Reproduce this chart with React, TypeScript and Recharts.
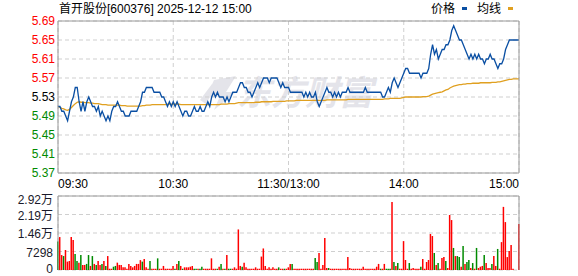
import {
  Bar,
  BarChart,
  CartesianGrid,
  Cell,
  Line,
  LineChart,
  ReferenceLine,
  XAxis,
  YAxis,
} from "recharts";

const FONT = "'Liberation Sans', Arial, 'Noto Sans CJK SC', sans-serif";
const RED = "#ff0000";
const GREEN = "#008a00";
const PRICE_COLOR = "#0a4fa3";
const AVG_COLOR = "#e0a020";
const FRAME = "#9a9a9a";
const GRID = "#cfcfcf";

const PRE_CLOSE = 5.53;

// minute index: 0..120 = 09:30..11:30, 121..240 = 13:01..15:00
const timeTicks = [0, 60, 120, 180, 240];
const timeLabels = ["09:30", "10:30", "11:30/13:00", "14:00", "15:00"];

const priceTicks = [5.37, 5.41, 5.45, 5.49, 5.53, 5.57, 5.61, 5.65, 5.69];
const pctLabels = ["2.90%", "2.18%", "1.45%", "0.73%", "0.00%", "0.73%", "1.45%", "2.18%", "2.90%"];

const volTicks = [0, 7298, 14596, 21894, 29192];
const volLabels = ["0", "7298", "1.46万", "2.19万", "2.92万"];

const priceAM = [
  5.51, 5.51, 5.5, 5.5, 5.49, 5.48, 5.5, 5.52, 5.53, 5.55,
  5.55, 5.52, 5.5, 5.52, 5.5, 5.52, 5.53, 5.52, 5.51, 5.51,
  5.5, 5.51, 5.49, 5.5, 5.49, 5.48, 5.49, 5.48, 5.5, 5.51,
  5.51, 5.52, 5.51, 5.5, 5.5, 5.49, 5.49, 5.49, 5.5, 5.5,
  5.5, 5.5, 5.51, 5.52, 5.54, 5.54, 5.55, 5.55, 5.55, 5.55,
  5.54, 5.54, 5.54, 5.54, 5.53, 5.53, 5.52, 5.51, 5.52, 5.51,
  5.52, 5.51, 5.52, 5.51, 5.5, 5.49, 5.5, 5.5, 5.49, 5.49,
  5.5, 5.51, 5.5, 5.5, 5.51, 5.5, 5.5, 5.51, 5.52, 5.51,
  5.53, 5.54, 5.53, 5.54, 5.53, 5.53, 5.53, 5.52, 5.53, 5.52,
  5.53, 5.54, 5.54, 5.54, 5.55, 5.56, 5.56, 5.55, 5.55, 5.54,
  5.54, 5.53, 5.54, 5.55, 5.56, 5.55, 5.56, 5.57, 5.57, 5.57,
  5.56, 5.57, 5.57, 5.57, 5.57, 5.56, 5.55, 5.56, 5.55, 5.55,
  5.55,
];

const pricePM = [
  5.54, 5.54, 5.54, 5.54, 5.54, 5.54, 5.54, 5.53, 5.54, 5.53,
  5.54, 5.53, 5.53, 5.54, 5.52, 5.51, 5.52, 5.53, 5.54, 5.55,
  5.54, 5.54, 5.53, 5.54, 5.53, 5.54, 5.53, 5.54, 5.54, 5.54,
  5.55, 5.54, 5.54, 5.54, 5.54, 5.54, 5.54, 5.54, 5.54, 5.55,
  5.54, 5.54, 5.54, 5.54, 5.54, 5.54, 5.54, 5.54, 5.53, 5.53,
  5.54, 5.55, 5.54, 5.56, 5.57, 5.56, 5.55, 5.56, 5.57, 5.58,
  5.59, 5.59, 5.58, 5.58, 5.58, 5.58, 5.58, 5.58, 5.57, 5.58,
  5.58, 5.58, 5.59, 5.62, 5.64, 5.62, 5.63, 5.61, 5.62, 5.63,
  5.63, 5.64, 5.64, 5.65, 5.67, 5.68, 5.67, 5.66, 5.65, 5.65,
  5.64, 5.63, 5.62, 5.61, 5.62, 5.61, 5.62, 5.61, 5.62, 5.61,
  5.61, 5.6, 5.61, 5.61, 5.62, 5.61, 5.61, 5.6, 5.59, 5.6,
  5.6, 5.61, 5.63, 5.64, 5.65, 5.65, 5.65, 5.65, 5.65, 5.65,
];

const avgAM = [
  5.51, 5.508, 5.506, 5.505, 5.503, 5.502, 5.504, 5.508, 5.512, 5.516,
  5.519, 5.52, 5.519, 5.519, 5.518, 5.518, 5.518, 5.517, 5.517, 5.516,
  5.516, 5.516, 5.515, 5.514, 5.514, 5.514, 5.513, 5.513, 5.513, 5.513,
  5.513, 5.513, 5.513, 5.512, 5.512, 5.512, 5.511, 5.511, 5.511, 5.511,
  5.511, 5.511, 5.511, 5.511, 5.512, 5.512, 5.513, 5.513, 5.513, 5.514,
  5.514, 5.514, 5.514, 5.514, 5.514, 5.514, 5.514, 5.515, 5.515, 5.515,
  5.515, 5.515, 5.515, 5.515, 5.514, 5.514, 5.514, 5.514, 5.514, 5.514,
  5.514, 5.514, 5.514, 5.514, 5.514, 5.514, 5.514, 5.514, 5.514, 5.514,
  5.514, 5.514, 5.514, 5.514, 5.514, 5.515, 5.515, 5.515, 5.515, 5.516,
  5.516, 5.516, 5.516, 5.517, 5.518, 5.518, 5.518, 5.518, 5.518, 5.518,
  5.518, 5.518, 5.518, 5.519, 5.519, 5.519, 5.52, 5.52, 5.52, 5.52,
  5.52, 5.52, 5.521, 5.521, 5.521, 5.521, 5.521, 5.521, 5.521, 5.522,
  5.522,
];

const avgPM = [
  5.522, 5.522, 5.522, 5.523, 5.523, 5.523, 5.523, 5.523, 5.523, 5.523,
  5.523, 5.523, 5.523, 5.523, 5.523, 5.523, 5.523, 5.523, 5.523, 5.524,
  5.524, 5.524, 5.524, 5.524, 5.524, 5.524, 5.524, 5.524, 5.524, 5.524,
  5.525, 5.525, 5.525, 5.525, 5.525, 5.525, 5.525, 5.525, 5.525, 5.525,
  5.525, 5.525, 5.525, 5.525, 5.525, 5.525, 5.525, 5.525, 5.525, 5.526,
  5.526, 5.526, 5.527, 5.527, 5.527, 5.527, 5.527, 5.527, 5.528, 5.529,
  5.53, 5.53, 5.53, 5.53, 5.53, 5.53, 5.53, 5.53, 5.53, 5.531,
  5.531, 5.531, 5.532, 5.534, 5.536, 5.537, 5.538, 5.539, 5.54, 5.541,
  5.543, 5.545, 5.546, 5.549, 5.551, 5.553, 5.554, 5.555, 5.556, 5.556,
  5.557, 5.557, 5.558, 5.558, 5.558, 5.559, 5.559, 5.559, 5.559, 5.56,
  5.56, 5.56, 5.56, 5.56, 5.56, 5.561, 5.561, 5.561, 5.562, 5.562,
  5.563, 5.564, 5.565, 5.566, 5.567, 5.567, 5.568, 5.568, 5.568, 5.568,
];

const volAM = [
  11200, 13000, 5900, 5500, 7900, 3300, 3550, 13000, 11800, 6300,
  3550, 2900, 5900, 2000, 2000, 2400, 5900, 1600, 5500, 2400,
  2000, 3550, 2000, 2400, 3550, 1600, 5500, 500, 500, 1300,
  1600, 2900, 2000, 2000, 1050, 1050, 500, 2400, 1600, 1050,
  1600, 2400, 2400, 3900, 3300, 4300, 1050, 500, 3550, 500,
  500, 500, 4600, 500, 500, 1600, 500, 500, 500, 500,
  1600, 500, 2400, 3550, 1600, 500, 1050, 1050, 1050, 1300,
  1600, 500, 500, 500, 500, 1300, 500, 500, 500, 500,
  4600, 500, 500, 500, 1300, 2400, 500, 500, 5900, 500,
  500, 500, 1050, 500, 16000, 1600, 1300, 2900, 1050, 500,
  500, 500, 500, 1050, 500, 500, 5300, 8500, 1600, 500,
  1050, 500, 1050, 500, 500, 1050, 500, 500, 500, 500,
  1050,
];

const volPM = [
  2400, 2400, 500, 500, 500, 500, 500, 500, 500, 500,
  500, 500, 500, 4700, 3150, 6700, 500, 2000, 12600, 800,
  800, 500, 500, 500, 500, 500, 500, 500, 500, 500,
  5100, 800, 500, 500, 500, 500, 500, 500, 1300, 500,
  500, 500, 500, 500, 500, 1300, 2400, 500, 500, 2400,
  500, 500, 500, 26800, 3150, 1600, 2750, 500, 500, 11400,
  3950, 500, 2750, 500, 800, 500, 500, 500, 1300, 4350,
  500, 3150, 3950, 14200, 13400, 6700, 2000, 2750, 500, 4700,
  5100, 3550, 800, 21700, 19700, 8700, 5500, 5500, 5100, 1300,
  9500, 2400, 3150, 3950, 800, 2750, 500, 8700, 800, 1300,
  1600, 5900, 2750, 800, 800, 2400, 5500, 1600, 8300, 500,
  11000, 24900, 18900, 5100, 7500, 9900, 500, 0, 0, 18100,
];

// bar colour per minute as seen: r = up (red), g = down (green)
const dirAM =
  "grrgrrrrrg" + "grgrrggrgr" + "grrgrgrrrg" + "grrrrrrrrr" + "rrrrgrrrgr" +
  "rrgrrrrrrr" + "rgrgrgrrrr" + "rggrggrrrr" + "rrrgrgrgrg" + "grrrrrgrrr" +
  "rrrrrrrrrr" + "rrrrrgrrgr" + "r";
const dirPM =
  "rgrrrrrrrr" + "rrrggrrrrr" + "grrrrrrrrr" + "rrrrrrrrrr" + "rrrrrrrgrr" +
  "gggrgrgrrr" + "rrgrrrrrgr" + "rrrrrgrgrr" + "rgrrrgrggr" + "grggrgrgrr" +
  "rgrrrgrrgr" + "rrrrrrrrrr";

const priceRows = priceAM.concat(pricePM).map((p, i) => ({
  i,
  price: p,
  avg: avgAM.concat(avgPM)[i],
}));

const volRows = volAM.concat(volPM).map((v, i) => ({
  i,
  vol: v,
  dir: (dirAM + dirPM)[i],
}));

function levelColor(v: number) {
  if (v > PRE_CLOSE + 1e-9) return RED;
  if (v < PRE_CLOSE - 1e-9) return GREEN;
  return "#000";
}

function PriceTick(props: any) {
  const { x, y, payload } = props;
  const v = payload.value as number;
  return (
    <text x={x} y={y} dy="0.355em" textAnchor="end" fill={levelColor(v)} fontSize={12} fontFamily={FONT}>
      {v.toFixed(2)}
    </text>
  );
}

function PctTick(props: any) {
  const { x, y, payload } = props;
  const v = payload.value as number;
  return (
    <text x={x} y={y} dy="0.355em" textAnchor="start" fill={levelColor(v)} fontSize={12} fontFamily={FONT}>
      {pctLabels[priceTicks.length - 1 - priceTicks.indexOf(v)]}
    </text>
  );
}

function TimeTick(props: any) {
  const { x, y, payload } = props;
  const k = timeTicks.indexOf(payload.value);
  const anchor = k === 0 ? "start" : k === timeTicks.length - 1 ? "end" : "middle";
  return (
    <text x={x} y={y} dy="0.71em" textAnchor={anchor} fill="#000" fontSize={12} fontFamily={FONT}>
      {timeLabels[k]}
    </text>
  );
}

function VolTick(props: any) {
  const { x, y, payload } = props;
  const k = volTicks.indexOf(payload.value);
  // the top label sits a little inside the panel, the bottom one a little above the edge
  const shift = k === volTicks.length - 1 ? 4 : k === 0 ? -1 : 1;
  return (
    <text x={x} y={y + shift} dy="0.355em" textAnchor="end" fill="#1a1a2a" fontSize={12} fontFamily={FONT}>
      {volLabels[k]}
    </text>
  );
}

function Watermark() {
  return (
    <svg width={578} height={276} style={{ position: "absolute", left: 0, top: 0 }}>
      <g fill="#e4e4ea">
        <path d="M214 80 L236 76 L226 92 L236 92 L214 110 L220 96 L206 98 Z" />
        <path d="M200 100 L212 84 L214 90 L206 104 Z" />
      </g>
      <text
        x={237}
        y={105}
        fontSize={34}
        fontWeight="bold"
        fill="#e4e4ea"
        fontFamily="'Noto Sans CJK SC', sans-serif"
        fontStyle="italic"
      >
        东方财富
      </text>
    </svg>
  );
}

export default function App() {
  return (
    <div
      style={{
        position: "absolute",
        left: 0,
        top: 0,
        width: 578,
        height: 276,
        background: "#fff",
        fontFamily: FONT,
        overflow: "hidden",
      }}
    >
      <Watermark />

      <div style={{ position: "absolute", left: 59, top: 1, fontSize: 12, lineHeight: "16px", color: "#000", whiteSpace: "nowrap" }}>
        首开股份[600376] 2025-12-12 15:00
      </div>
      <div style={{ position: "absolute", left: 431, top: 1, fontSize: 12, lineHeight: "16px", color: "#000" }}>价格</div>
      <div style={{ position: "absolute", left: 462, top: 7, width: 5, height: 3, background: PRICE_COLOR }} />
      <div style={{ position: "absolute", left: 477, top: 1, fontSize: 12, lineHeight: "16px", color: "#000" }}>均线</div>
      <div style={{ position: "absolute", left: 508, top: 7, width: 5, height: 3, background: AVG_COLOR }} />

      <div style={{ position: "absolute", left: 0, top: 0 }}>
        <LineChart width={578} height={192} data={priceRows} margin={{ top: 21, right: 0, bottom: 0, left: 0 }}>
          <CartesianGrid yAxisId="price" stroke={GRID} strokeDasharray="4 3" />
          <XAxis
            dataKey="i"
            type="number"
            domain={[0, 240]}
            ticks={timeTicks}
            interval={0}
            height={19}
            tickSize={0}
            tickMargin={6}
            tickLine={false}
            axisLine={{ stroke: FRAME }}
            tick={<TimeTick />}
          />
          <YAxis
            yAxisId="price"
            type="number"
            domain={[5.37, 5.69]}
            ticks={priceTicks}
            interval={0}
            width={58}
            tickSize={0}
            tickMargin={3}
            tickLine={false}
            axisLine={{ stroke: FRAME }}
            tick={<PriceTick />}
          />
          <YAxis
            yAxisId="pct"
            orientation="right"
            type="number"
            domain={[5.37, 5.69]}
            ticks={priceTicks}
            interval={0}
            width={59}
            tickSize={0}
            tickMargin={5}
            tickLine={false}
            axisLine={{ stroke: FRAME }}
            tick={<PctTick />}
          />
          <ReferenceLine yAxisId="price" y={5.69} stroke={FRAME} />
          <Line
            yAxisId="price"
            type="linear"
            dataKey="avg"
            stroke={AVG_COLOR}
            strokeWidth={1.3}
            dot={false}
            isAnimationActive={false}
          />
          <Line
            yAxisId="price"
            type="linear"
            dataKey="price"
            stroke={PRICE_COLOR}
            strokeWidth={1.3}
            dot={false}
            isAnimationActive={false}
          />
        </LineChart>
      </div>

      <div style={{ position: "absolute", left: 0, top: 192 }}>
        <BarChart width={578} height={84} data={volRows} margin={{ top: 4, right: 59, bottom: 6, left: 0 }}>
          <CartesianGrid stroke={GRID} strokeDasharray="4 3" />
          <XAxis
            dataKey="i"
            type="number"
            domain={[0, 240]}
            ticks={timeTicks}
            interval={0}
            height={0}
            tick={false}
            tickLine={false}
            axisLine={{ stroke: FRAME }}
          />
          <YAxis
            type="number"
            domain={[0, 29192]}
            ticks={volTicks}
            interval={0}
            width={58}
            tickSize={0}
            tickMargin={5}
            tickLine={false}
            axisLine={{ stroke: FRAME }}
            tick={<VolTick />}
          />
          <ReferenceLine y={29192} stroke={FRAME} />
          <ReferenceLine x={240} stroke={FRAME} />
          <Bar dataKey="vol" barSize={1.5} isAnimationActive={false}>
            {volRows.map((r) => (
              <Cell key={r.i} fill={r.dir === "g" ? GREEN : RED} />
            ))}
          </Bar>
        </BarChart>
      </div>
    </div>
  );
}
